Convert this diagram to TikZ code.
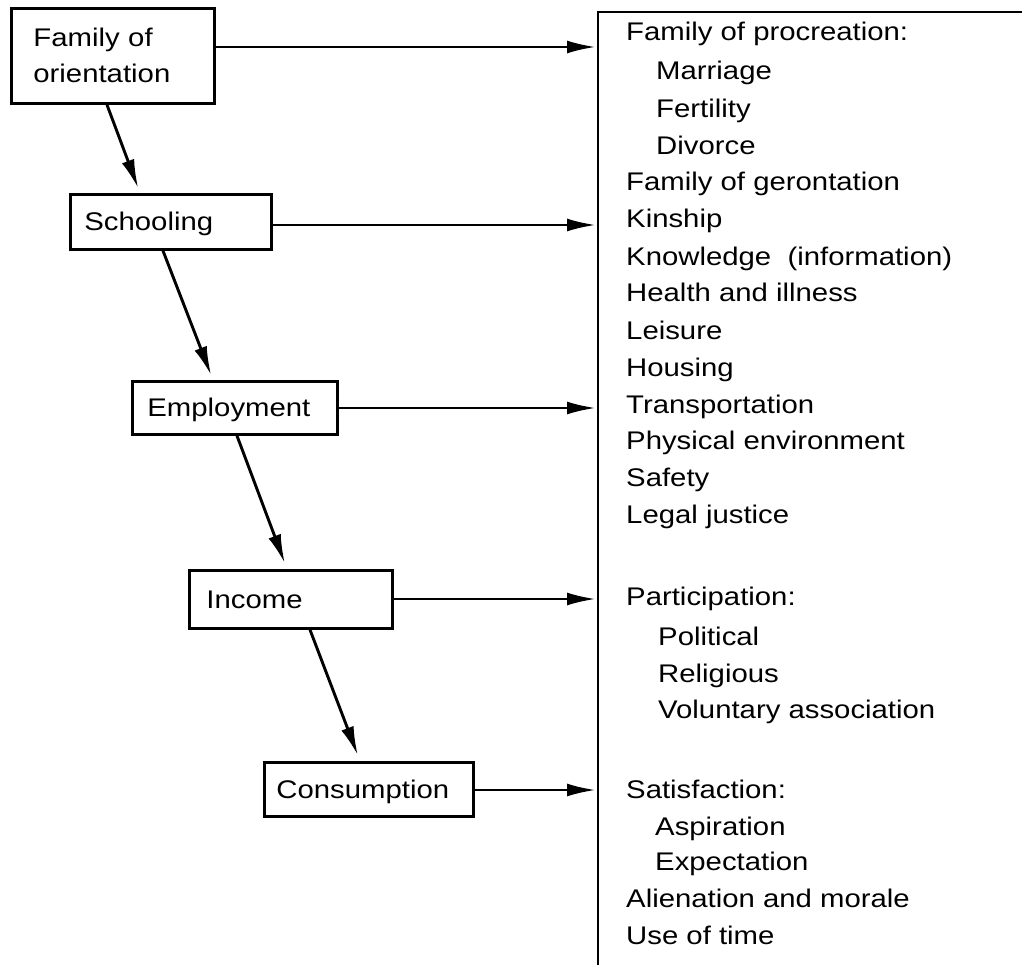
\documentclass[tikz,border=0pt]{standalone}
\usepackage{fontspec}
\setmainfont{Liberation Sans}[FakeStretch=1.15]
\usetikzlibrary{arrows.meta}
\begin{document}
\begin{tikzpicture}[x=1pt,y=-1pt,
  txt/.style={font=\fontsize{25.5}{36}\selectfont},
  lbl/.style={txt,anchor=base west,inner sep=0pt},
  stagebox/.style={txt,draw,line width=2.8pt,anchor=north west,align=left,
    inner ysep=0pt,text height=18pt,text depth=0pt},
  arr/.style={line width=2.9pt,-{Latex[length=29pt,width=13pt]}},
  panel/.style={line width=2.8pt}]
\useasboundingbox (0,0) rectangle (1022,965);
% left column boxes
\node[stagebox,minimum width=203pt,minimum height=95pt,inner xsep=22pt,text width=159pt,text depth=36pt] (b1) at (10,7) {Family of\\orientation};
\node[stagebox,minimum width=201pt,minimum height=55pt,inner xsep=14pt,text width=173pt] (b2) at (69,193) {Schooling};
\node[stagebox,minimum width=205pt,minimum height=53pt,inner xsep=15pt,text width=175pt] (b3) at (131,380) {Employment};
\node[stagebox,minimum width=203pt,minimum height=58pt,inner xsep=17pt,text width=169pt] (b4) at (188,569) {Income};
\node[stagebox,minimum width=209pt,minimum height=54pt,inner xsep=12pt,text width=185pt] (b5) at (263,761) {Consumption};
% right panel
\coordinate (ptop) at (598,12);
\coordinate (pright) at (1022,12);
\coordinate (pbot) at (598,965);
\draw[panel] (pright) -- (ptop) -- (pbot);
% arrow targets on the panel edge
\coordinate (t1) at (596,47);
\coordinate (t2) at (596,225);
\coordinate (t3) at (596,408);
\coordinate (t4) at (596,599);
\coordinate (t5) at (596,790);
\draw[arr] (b1.east |- t1) -- (t1);
\draw[arr] (b2.east |- t2) -- (t2);
\draw[arr] (b3.east |- t3) -- (t3);
\draw[arr] (b4.east |- t4) -- (t4);
\draw[arr] (b5.east |- t5) -- (t5);
% diagonal chain
\draw[arr,shorten >=5pt] ([xshift=97pt]b1.south west) -- ([xshift=71pt]b2.north west);
\draw[arr,shorten >=5pt] ([xshift=94pt]b2.south west) -- ([xshift=82pt]b3.north west);
\draw[arr,shorten >=6pt] ([xshift=106pt]b3.south west) -- ([xshift=99pt]b4.north west);
\draw[arr,shorten >=6pt] ([xshift=122pt]b4.south west) -- ([xshift=97pt]b5.north west);
% right list
\foreach \x/\y/\t [count=\i] in {
  626/41/{Family of procreation:},
  656/80/Marriage,
  656/118/Fertility,
  656/155/Divorce,
  626/191/{Family of gerontation},
  626/228/Kinship,
  626/266/{Knowledge\ \ (information)},
  626/302/{Health and illness},
  626/339/Leisure,
  626/376/Housing,
  626/413/Transportation,
  626/449/{Physical environment},
  626/486/Safety,
  626/523/{Legal justice},
  626/605/{Participation:},
  658/645/Political,
  658/682/Religious,
  658/718/{Voluntary association},
  626/798/{Satisfaction:},
  655/835/Aspiration,
  655/870/Expectation,
  626/907/{Alienation and morale},
  626/944/{Use of time}}
  \node[lbl] (r\i) at (\x,\y) {\t};
\end{tikzpicture}
\end{document}
